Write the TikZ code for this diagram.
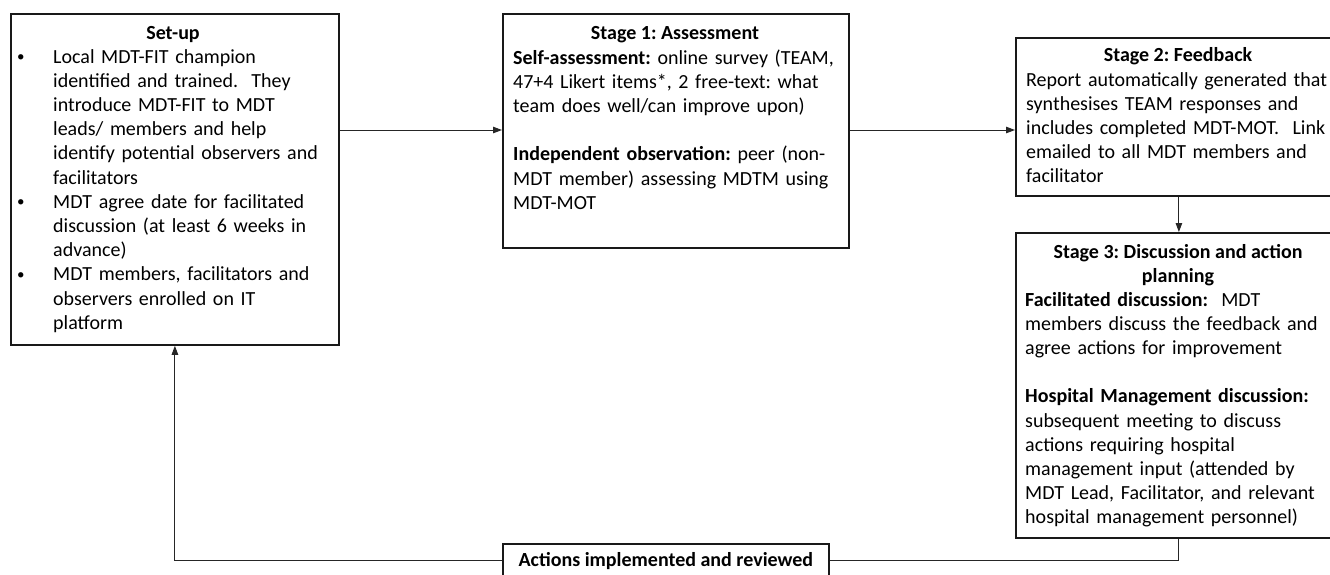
\documentclass[tikz,border=0pt]{standalone}
\usepackage{fontspec}
\setmainfont{Carlito}
\usetikzlibrary{arrows.meta}
\newcommand{\mybul}{\makebox[36pt][l]{\raisebox{1.5pt}{\fontsize{15}{15}\selectfont\textbullet}}}
\begin{document}
\frenchspacing
\begin{tikzpicture}[x=1pt,y=-1pt,
  box/.style={draw=black!90, line width=1.8pt, inner sep=0pt, anchor=north west},
  txt/.style={inner sep=0pt, text width=420pt, align=left, anchor=north west, font=\fontsize{20}{24.2}\selectfont\frenchspacing},
  ttl/.style={inner sep=0pt, font=\fontsize{20}{24.2}\selectfont\bfseries},
  conn/.style={line width=1pt, draw=black!85},
  arr/.style={conn, -{Triangle[length=9pt,width=6.5pt]}}
]
\useasboundingbox (0,0) rectangle (1330,574);
\clip (0,0) rectangle (1330,574);

% boxes
\node[box, minimum width=328pt, minimum height=331pt] (setup) at (10,13) {};
\node[box, minimum width=346pt, minimum height=234pt] (stage1) at (502,13) {};
\node[box, minimum width=326pt, minimum height=158pt] (stage2) at (1015,37) {};
\node[box, minimum width=326pt, minimum height=305pt] (stage3) at (1015,232) {};
\node[box, minimum width=326pt, minimum height=34pt, font=\fontsize{20}{24.2}\selectfont\bfseries] (actions) at (502,543) {Actions implemented and reviewed};

% set-up text
\node[ttl, anchor=base] (setupT) at (173,39) {Set-up};
\node[txt] (setupB) at (17,46) {\strut\mybul Local MDT-FIT champion\\
\hspace*{36pt}identified and trained.~ They\\
\hspace*{36pt}introduce MDT-FIT to MDT\\
\hspace*{36pt}leads/ members and help\\
\hspace*{36pt}identify potential observers and\\
\hspace*{36pt}facilitators\\
\mybul MDT agree date for facilitated\\
\hspace*{36pt}discussion (at least 6 weeks in\\
\hspace*{36pt}advance)\\
\mybul MDT members, facilitators and\\
\hspace*{36pt}observers enrolled on IT\\
\hspace*{36pt}platform};

% stage 1 text
\node[ttl, anchor=base] (stage1T) at (675,39) {Stage 1: Assessment};
\node[txt] (stage1B) at (513,47) {\strut\textbf{Self-assessment:} online survey (TEAM,\\
47+4 Likert items*, 2 free-text: what\\
team does well/can improve upon)\\[24.2pt]
\textbf{Independent observation:} peer (non-\\
MDT member) assessing MDTM using\\
MDT-MOT};

% stage 2 text
\node[ttl, anchor=base] (stage2T) at (1178,61) {Stage 2: Feedback};
\node[txt] (stage2B) at (1026,69) {\strut Report automatically generated that\\
synthesises TEAM responses and\\
includes completed MDT-MOT.~ Link\\
emailed to all MDT members and\\
facilitator};

% stage 3 text
\node[ttl, anchor=north, align=center] (stage3T) at (1178,241) {\strut Stage 3: Discussion and action\\planning};
\node[txt] (stage3B) at (1025,289) {\strut\textbf{Facilitated discussion:}~ MDT\\
members discuss the feedback and\\
agree actions for improvement\\[24.2pt]
\textbf{Hospital Management discussion:}\\
subsequent meeting to discuss\\
actions requiring hospital\\
management input (attended by\\
MDT Lead, Facilitator, and relevant\\
hospital management personnel)};

% connectors
\coordinate (r1) at (0,130);
\draw[arr] (setup.east |- r1) -- (stage1.west |- r1);
\draw[arr] (stage1.east |- r1) -- (stage2.west |- r1);
\draw[arr] (stage2.south) -- (stage3.north);
\draw[conn] (stage3.south) |- (actions.east);
\draw[arr] (actions.west) -| (setup.south);
\end{tikzpicture}
\end{document}
